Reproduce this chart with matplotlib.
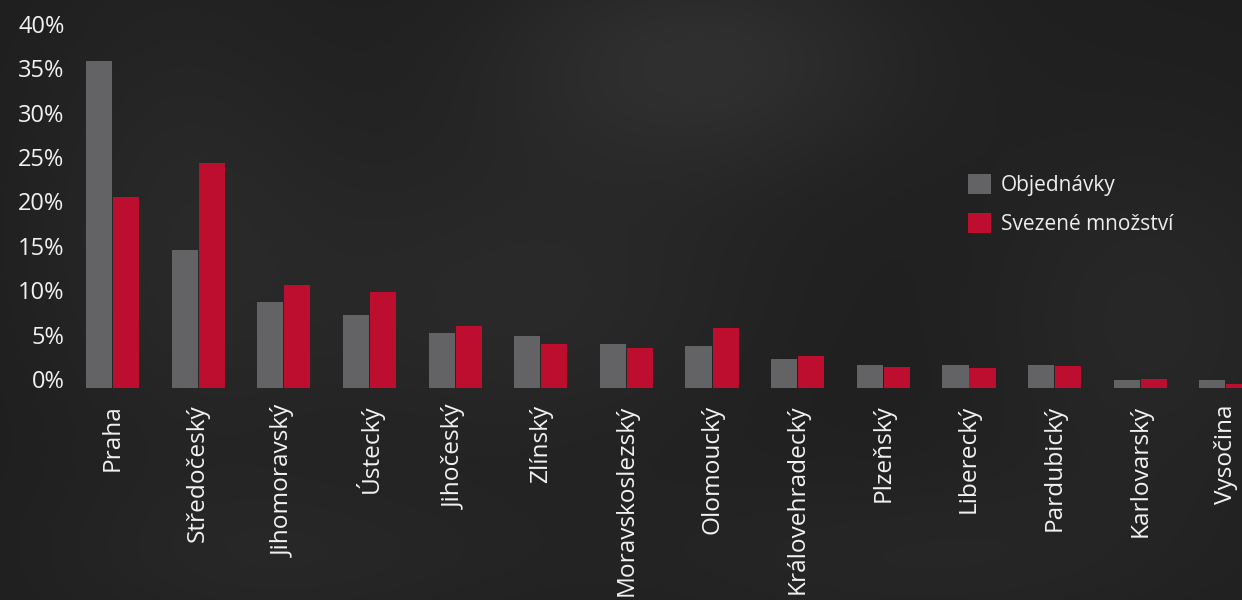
import numpy as np
import matplotlib
matplotlib.use("Agg")
import matplotlib.pyplot as plt
from matplotlib.patches import Patch

plt.rcParams['font.family'] = ['Open Sans', 'DejaVu Sans']

regions = ['Praha', 'Středočeský', 'Jihomoravský', 'Ústecký', 'Jihočeský', 'Zlínský',
           'Moravskoslezský', 'Olomoucký', 'Královehradecký', 'Plzeňský', 'Liberecký',
           'Pardubický', 'Karlovarský', 'Vysočina']
objednavky = [36.9, 15.5, 9.7, 8.2, 6.2, 5.9, 5.0, 4.7, 3.3, 2.6, 2.6, 2.6, 0.9, 0.9]
svezene = [21.5, 25.4, 11.6, 10.8, 7.0, 5.0, 4.5, 6.8, 3.6, 2.4, 2.25, 2.5, 1.0, 0.45]
yticks = [0, 5, 10, 15, 20, 25, 30, 35, 40]

W, H = 1242, 600
fig = plt.figure(figsize=(W / 100, H / 100), dpi=100)
fig.patch.set_facecolor('#232222')

# soft dark backdrop with a few lighter smudges
bg = fig.add_axes([0, 0, 1, 1], zorder=-10)
yy, xx = np.mgrid[0:H, 0:W]
field = np.full((H, W), 0.0)
for cx, cy, sx, sy, a in [(700, 60, 220, 120, 0.9), (520, 300, 260, 160, 0.6),
                          (180, 220, 160, 260, 0.5), (1150, 320, 180, 200, 0.5),
                          (900, 560, 300, 100, 0.4), (300, 560, 260, 90, 0.4)]:
    field += a * np.exp(-(((xx - cx) / sx) ** 2 + ((yy - cy) / sy) ** 2))
base = np.array([0x1f, 0x1e, 0x1e]) / 255
lift = np.array([0x32, 0x31, 0x31]) / 255 - base
img = base + np.clip(field, 0, 1)[..., None] * lift
bg.imshow(img, aspect='auto', extent=[0, W, H, 0])
bg.axis('off')

px_per_unit = 85.65
x0 = 112.5
left_px = 66
ax = fig.add_axes([left_px / W, (H - 388) / H, (W - left_px) / W, 388 / H])
ax.set_facecolor('none')
ax.set_xlim((left_px - x0) / px_per_unit, (W - x0) / px_per_unit)
ax.set_ylim(0, 388 / 8.875)

x = np.arange(len(regions))
bw = 0.305
ax.bar(x - 0.158, objednavky, width=bw, color='#636365', label='Objednávky')
ax.bar(x + 0.158, svezene, width=bw, color='#bd0e2f', label='Svezené množství')

for s in ax.spines.values():
    s.set_visible(False)
ax.set_yticks(yticks)
ax.set_yticklabels([f'{v}%' for v in yticks])
ax.set_xticks(x)
ax.set_xticklabels(regions, rotation=90)
ax.tick_params(axis='y', length=0, pad=1, labelsize=17, labelcolor='#f2f2f2')
ax.tick_params(axis='x', length=0, pad=12, labelsize=17.6, labelcolor='#f2f2f2')
plt.setp(ax.get_yticklabels(), va='baseline')

handles = [Patch(facecolor='#636365'), Patch(facecolor='#bd0e2f')]
leg = fig.legend(handles, ['Objednávky', 'Svezené množství'], loc='upper left',
                 bbox_to_anchor=(949 / W, 1 - 155 / H), frameon=False, fontsize=15,
                 handlelength=1.1, handleheight=1.1, handletextpad=0.5, labelspacing=0.8,
                 labelcolor='#eeeeee')

fig.savefig('out.png', dpi=100, facecolor=fig.get_facecolor())
